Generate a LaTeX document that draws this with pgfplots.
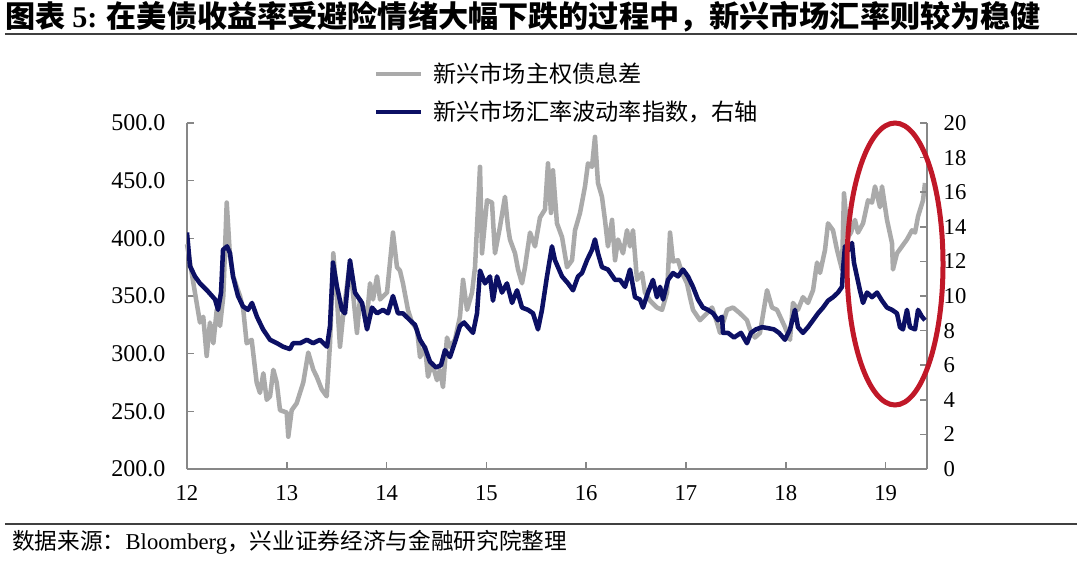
\documentclass[border=0pt]{standalone}
\usepackage{pgfplots}
\usepackage{pgfplotstable}
\pgfplotsset{compat=1.18}
\usepackage{fontspec}
\setmainfont{Liberation Serif}
\newfontfamily\cjk{Noto Sans CJK SC}
\pgfkeys{/pgf/number format/assume math mode=true}
\definecolor{grayline}{RGB}{170,170,170}
\definecolor{navy}{RGB}{12,16,100}
\definecolor{axisgray}{RGB}{135,135,135}
\definecolor{ellred}{RGB}{192,24,40}

\pgfplotstableread{
x y
12.000 395
12.047 370
12.097 344
12.130 327
12.163 332
12.197 298
12.230 327
12.264 309
12.298 338
12.331 324
12.364 350
12.398 431
12.431 384
12.464 367
12.498 358
12.531 350
12.564 338
12.598 309
12.648 312
12.698 275
12.731 266
12.765 283
12.799 260
12.832 263
12.865 286
12.899 275
12.932 251
12.999 249
13.015 228
13.049 251
13.099 257
13.165 275
13.215 301
13.266 286
13.300 280
13.350 269
13.400 263
13.433 309
13.466 387
13.503 347
13.533 306
13.563 332
13.633 379
13.703 318
13.733 347
13.804 332
13.834 361
13.864 347
13.904 367
13.934 347
14.004 353
14.064 405
14.104 375
14.134 372
14.164 361
14.214 338
14.254 327
14.305 321
14.335 297
14.385 306
14.415 280
14.455 292
14.505 277
14.535 286
14.565 271
14.605 314
14.635 306
14.685 312
14.735 332
14.766 364
14.806 338
14.856 353
14.886 375
14.936 462
14.956 387
15.006 433
15.056 431
15.086 387
15.136 410
15.186 436
15.216 410
15.236 399
15.287 387
15.317 373
15.357 361
15.387 375
15.437 405
15.487 393
15.537 418
15.587 425
15.617 465
15.647 422
15.667 459
15.707 413
15.758 401
15.808 375
15.858 381
15.888 407
15.938 422
15.988 445
16.018 465
16.058 462
16.088 488
16.118 448
16.158 436
16.188 416
16.218 393
16.259 416
16.289 381
16.319 399
16.369 387
16.409 407
16.439 393
16.469 407
16.509 364
16.559 370
16.589 353
16.639 346
16.709 340
16.760 338
16.810 353
16.840 405
16.870 380
16.920 381
16.960 370
17.010 361
17.040 349
17.070 338
17.140 329
17.210 335
17.261 340
17.311 327
17.341 318
17.411 338
17.471 340
17.541 335
17.611 329
17.641 321
17.691 314
17.741 318
17.812 355
17.862 340
17.912 338
17.992 323
18.042 312
18.072 344
18.122 338
18.172 349
18.222 344
18.273 355
18.313 379
18.343 370
18.393 390
18.423 413
18.473 407
18.513 390
18.563 373
18.583 439
18.623 401
18.653 405
18.693 416
18.723 405
18.774 413
18.824 433
18.864 431
18.894 445
18.944 427
18.964 445
19.014 416
19.064 396
19.074 373
19.114 387
19.164 393
19.214 399
19.265 407
19.295 405
19.325 419
19.375 433
19.395 448
}\spreadtable

\pgfplotstableread{
x y
12.000 13.67
12.030 11.73
12.080 11.13
12.130 10.73
12.200 10.33
12.251 10.00
12.281 9.80
12.311 9.20
12.341 10.20
12.361 12.67
12.401 12.87
12.431 12.47
12.461 11.13
12.511 10.00
12.561 9.40
12.611 9.20
12.651 9.60
12.701 8.80
12.762 8.07
12.832 7.47
12.902 7.27
12.962 7.07
13.032 6.93
13.062 7.27
13.132 7.27
13.202 7.47
13.263 7.27
13.333 7.47
13.403 7.07
13.433 8.27
13.463 11.93
13.503 10.53
13.553 9.20
13.583 9.00
13.633 12.07
13.683 10.20
13.754 9.60
13.804 8.07
13.854 9.33
13.904 9.00
13.964 9.20
14.014 9.00
14.064 10.00
14.114 9.00
14.164 9.00
14.234 8.60
14.285 8.33
14.335 7.47
14.385 7.00
14.435 6.20
14.495 5.87
14.545 6.00
14.585 6.87
14.635 6.47
14.685 7.33
14.735 8.27
14.776 8.47
14.816 8.20
14.866 7.87
14.906 9.00
14.936 11.47
14.986 10.73
15.036 11.13
15.066 9.73
15.106 11.13
15.156 10.20
15.206 10.73
15.257 9.60
15.307 10.33
15.357 9.33
15.417 9.20
15.467 9.00
15.517 8.07
15.557 9.20
15.607 11.13
15.657 12.87
15.687 12.07
15.758 11.13
15.818 10.73
15.868 10.33
15.918 11.13
15.958 11.33
16.008 12.07
16.058 12.67
16.088 13.27
16.118 12.47
16.158 11.67
16.218 11.53
16.289 10.93
16.339 10.93
16.389 10.53
16.439 11.53
16.489 9.93
16.539 9.80
16.569 9.33
16.619 10.20
16.669 10.93
16.709 9.93
16.740 10.53
16.770 9.80
16.820 10.93
16.870 11.33
16.920 11.13
16.970 11.53
17.020 11.13
17.070 10.53
17.120 9.80
17.170 9.33
17.220 9.20
17.271 9.00
17.321 8.60
17.361 8.80
17.371 7.87
17.421 7.87
17.481 7.60
17.551 7.87
17.611 7.27
17.651 7.87
17.701 8.07
17.762 8.20
17.832 8.13
17.882 8.07
17.932 7.87
17.992 7.47
18.042 8.07
18.092 9.20
18.122 8.20
18.172 7.87
18.222 8.20
18.273 8.60
18.323 9.00
18.373 9.33
18.423 9.73
18.473 9.93
18.523 10.20
18.563 10.53
18.573 11.53
18.593 12.87
18.633 12.67
18.663 13.07
18.683 11.93
18.713 11.13
18.743 10.33
18.774 9.60
18.814 10.20
18.864 9.93
18.914 10.20
18.964 9.73
19.014 9.33
19.064 9.20
19.114 9.00
19.144 8.20
19.174 8.07
19.214 9.20
19.244 8.20
19.295 8.07
19.325 9.20
19.365 8.80
19.395 8.60
}\fxtable

\begin{document}
\begin{tikzpicture}
\useasboundingbox (-140.25pt,-69pt) rectangle (667.5pt,351.75pt);
% title
\node[anchor=west, inner sep=0pt] at (-136.5pt,339pt)
  {\fontsize{22.6}{24}\selectfont\bfseries\cjk 图表 {\rmfamily\bfseries 5:} 在美债收益率受避险情绪大幅下跌的过程中，新兴市场汇率则较为稳健};
\draw[line width=1.5pt, black!75] (-136.5pt,326.5pt) -- (667.5pt,326.5pt);
% footer
\draw[line width=1.5pt, black!75] (-136.5pt,-41.25pt) -- (667.5pt,-41.25pt);
\node[anchor=west, inner sep=0pt] at (-131.25pt,-54.75pt)
  {\fontsize{17}{18}\selectfont\cjk 数据来源：{\rmfamily Bloomberg}，兴业证券经济与金融研究院整理};

\begin{axis}[
  at={(0pt,0pt)}, anchor=south west,
  scale only axis, width=555pt, height=259.5pt,
  xmin=12, xmax=19.415, ymin=200, ymax=500,
  axis x line*=bottom, axis y line*=left,
  axis line style={-, axisgray, line width=1.5pt},
  xtick={12,13,14,15,16,17,18,19},
  ytick={200,250,300,350,400,450,500},
  tick align=inside, major tick length=5.25pt,
  tick style={axisgray, line width=1.2pt},
  yticklabel style={font=\fontsize{18}{20}\selectfont, xshift=-12.75pt,
    /pgf/number format/.cd, fixed, fixed zerofill, precision=1},
  xticklabel style={font=\fontsize{17}{20}\selectfont, yshift=-9pt},
  clip=false,
]
\addplot[grayline, line width=3.4pt, line join=round] table[x=x,y=y] {\spreadtable};
\end{axis}

\begin{axis}[
  at={(0pt,0pt)}, anchor=south west,
  scale only axis, width=555pt, height=259.5pt,
  xmin=12, xmax=19.415, ymin=0, ymax=20,
  axis x line=none, axis y line*=right,
  axis line style={-, axisgray, line width=1.5pt},
  ytick={0,2,...,20},
  tick align=inside, major tick length=5.25pt,
  tick style={axisgray, line width=1.2pt},
  yticklabel style={font=\fontsize{17}{20}\selectfont, xshift=9pt},
]
\addplot[navy, line width=3.4pt, line join=round] table[x=x,y=y] {\fxtable};
\end{axis}

% legend
\draw[grayline, line width=3pt] (141.75pt,296.25pt) -- (175.5pt,296.25pt);
\node[anchor=west, inner sep=0pt] at (184.5pt,296.25pt) {\fontsize{17.4}{19}\selectfont\cjk 新兴市场主权债息差};
\draw[navy, line width=3pt] (141.75pt,267.75pt) -- (175.5pt,267.75pt);
\node[anchor=west, inner sep=0pt] at (184.5pt,267.75pt) {\fontsize{17.4}{19}\selectfont\cjk 新兴市场汇率波动率指数，右轴};

% highlight ellipse
\draw[ellred, line width=3.75pt] (531pt,153.75pt) ellipse [x radius=36pt, y radius=105.75pt];
\end{tikzpicture}
\end{document}
